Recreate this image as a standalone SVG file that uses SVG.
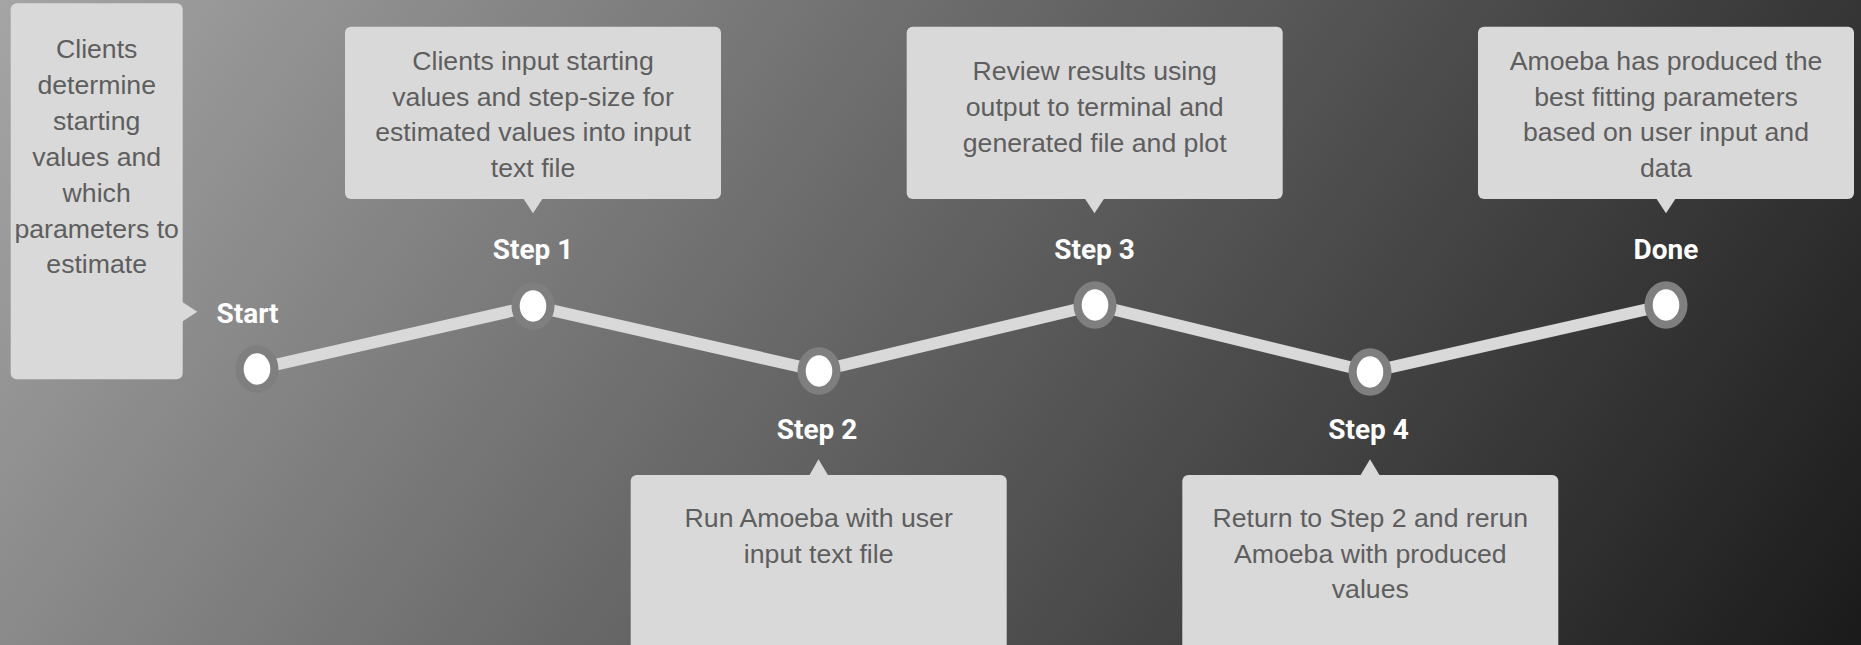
<svg xmlns="http://www.w3.org/2000/svg" width="1861" height="645" viewBox="0 0 1861 645">
  <defs>
    <linearGradient id="bg" gradientUnits="userSpaceOnUse" x1="0" y1="0" x2="1677" y2="1161">
      <stop offset="0" stop-color="#a5a5a5"/>
      <stop offset="1" stop-color="#101010"/>
    </linearGradient>
  </defs>
  <style>
    .box { fill: #d9d9d9; }
    .txt { font-family: "Liberation Sans", Arial, sans-serif; font-size: 26.67px; fill: #5e5e5e; text-anchor: middle; }
    .lbl { font-family: Roboto, "Liberation Sans", sans-serif; font-weight: bold; font-size: 28px; fill: #ffffff; text-anchor: middle; }
    .ring { fill: #7f7f7f; }
    .dot { fill: #ffffff; }
    .path { fill: none; stroke: #d9d9d9; stroke-width: 12; stroke-linejoin: round; }
  </style>
  <rect x="0" y="0" width="1861" height="645" fill="url(#bg)"/>

  <g id="connectors">
    <polyline class="path" points="257,369 533,306 819,371 1095,305 1370,372 1666,305"/>
  </g>

  <g id="note-start">
    <rect class="box" x="10.7" y="3.3" width="172" height="376" rx="6"/>
    <polygon class="box" points="182,301.7 197.3,311.7 182,321.7"/>
    <text class="txt" x="96.7" y="58">Clients</text>
    <text class="txt" x="96.7" y="93.9">determine</text>
    <text class="txt" x="96.7" y="129.8">starting</text>
    <text class="txt" x="96.7" y="165.7">values and</text>
    <text class="txt" x="96.7" y="201.6">which</text>
    <text class="txt" x="96.7" y="237.5">parameters to</text>
    <text class="txt" x="96.7" y="273.4">estimate</text>
  </g>

  <g id="note-step1">
    <rect class="box" x="345" y="26.7" width="376" height="172.3" rx="6"/>
    <polygon class="box" points="523,198 543,198 533,213.3"/>
    <text class="txt" x="533" y="70">Clients input starting</text>
    <text class="txt" x="533" y="105.7">values and step-size for</text>
    <text class="txt" x="533" y="141.4">estimated values into input</text>
    <text class="txt" x="533" y="177">text file</text>
  </g>

  <g id="note-step2">
    <rect class="box" x="630.7" y="475" width="376" height="190" rx="6"/>
    <polygon class="box" points="809,476 828.5,476 818.5,459.3"/>
    <text class="txt" x="818.7" y="526.7">Run Amoeba with user</text>
    <text class="txt" x="818.7" y="562.5">input text file</text>
  </g>

  <g id="note-step3">
    <rect class="box" x="906.7" y="26.7" width="376" height="172.3" rx="6"/>
    <polygon class="box" points="1084.5,198 1104.5,198 1094.5,213.3"/>
    <text class="txt" x="1094.7" y="80">Review results using</text>
    <text class="txt" x="1094.7" y="115.8">output to terminal and</text>
    <text class="txt" x="1094.7" y="151.6">generated file and plot</text>
  </g>

  <g id="note-step4">
    <rect class="box" x="1182.3" y="475" width="376" height="190" rx="6"/>
    <polygon class="box" points="1360,476 1380,476 1370,459.3"/>
    <text class="txt" x="1370.3" y="526.7">Return to Step 2 and rerun</text>
    <text class="txt" x="1370.3" y="562.5">Amoeba with produced</text>
    <text class="txt" x="1370.3" y="598.3">values</text>
  </g>

  <g id="note-done">
    <rect class="box" x="1478" y="26.7" width="376" height="172.3" rx="6"/>
    <polygon class="box" points="1656,198 1676,198 1666,213.3"/>
    <text class="txt" x="1666" y="70">Amoeba has produced the</text>
    <text class="txt" x="1666" y="105.7">best fitting parameters</text>
    <text class="txt" x="1666" y="141.4">based on user input and</text>
    <text class="txt" x="1666" y="177">data</text>
  </g>

  <g id="node-start">
    <ellipse class="ring" cx="257" cy="369" rx="21.5" ry="23.7"/>
    <ellipse class="dot" cx="257" cy="369" rx="13.3" ry="15.7"/>
    <text class="lbl" x="247.5" y="323">Start</text>
  </g>
  <g id="node-step1">
    <ellipse class="ring" cx="533" cy="306" rx="21.5" ry="23.7"/>
    <ellipse class="dot" cx="533" cy="306" rx="13.3" ry="15.7"/>
    <text class="lbl" x="533" y="259">Step 1</text>
  </g>
  <g id="node-step2">
    <ellipse class="ring" cx="819" cy="371" rx="21.5" ry="23.7"/>
    <ellipse class="dot" cx="819" cy="371" rx="13.3" ry="15.7"/>
    <text class="lbl" x="817" y="439.3">Step 2</text>
  </g>
  <g id="node-step3">
    <ellipse class="ring" cx="1095" cy="305" rx="21.5" ry="23.7"/>
    <ellipse class="dot" cx="1095" cy="305" rx="13.3" ry="15.7"/>
    <text class="lbl" x="1094.5" y="259">Step 3</text>
  </g>
  <g id="node-step4">
    <ellipse class="ring" cx="1370" cy="372" rx="21.5" ry="23.7"/>
    <ellipse class="dot" cx="1370" cy="372" rx="13.3" ry="15.7"/>
    <text class="lbl" x="1368.5" y="439.3">Step 4</text>
  </g>
  <g id="node-done">
    <ellipse class="ring" cx="1666" cy="305" rx="21.5" ry="23.7"/>
    <ellipse class="dot" cx="1666" cy="305" rx="13.3" ry="15.7"/>
    <text class="lbl" x="1666" y="259">Done</text>
  </g>
</svg>
